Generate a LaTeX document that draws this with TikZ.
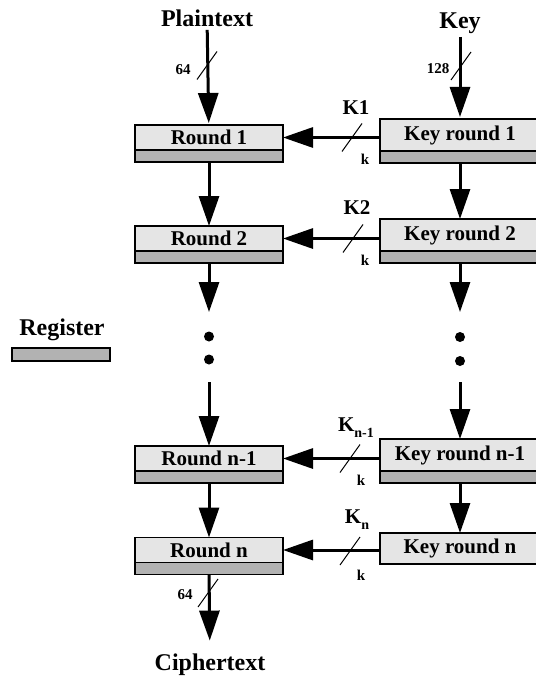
\documentclass[tikz,border=0pt]{standalone}
\usepackage{fontspec}
\setmainfont{Liberation Serif}
\usetikzlibrary{arrows.meta,calc,positioning}

% small slash across a bus, #1 = centre point
\newcommand{\busmark}[1]{\draw[bus] ($#1+(-10,14)$) -- ($#1+(10,-14)$);}

\begin{document}
\begin{tikzpicture}[x=1pt, y=-1pt, every node/.style={font=\bfseries},
  stage/.style={draw, line width=1.4pt, fill=gray!20, outer sep=0pt, inner sep=0pt,
    minimum width=148pt, minimum height=25pt, font=\fontsize{21}{23}\selectfont\bfseries},
  keystage/.style={stage, minimum width=160pt, minimum height=32pt},
  register/.style={draw, line width=1.4pt, fill=gray!60, outer sep=0pt, inner sep=0pt,
    minimum width=148pt, minimum height=12pt},
  title/.style={font=\fontsize{24}{26}\selectfont\bfseries},
  buslabel/.style={font=\fontsize{15}{16}\selectfont\bfseries},
  keylabel/.style={font=\fontsize{21}{23}\selectfont\bfseries},
  flow/.style={line width=3pt, -{Triangle[width=20pt,length=30pt]}},
  bus/.style={line width=1pt},
  dot/.style={circle, fill, inner sep=0pt, minimum size=10pt}]
  \useasboundingbox (0,0) rectangle (535,679);

  % titles
  \node[title] (plain) at (207,18) {Plaintext};
  \node[title] (key) at (460,23) {Key};
  \node[title] (cipher) at (210,665) {Ciphertext};
  \node[title] (regtxt) at (62,330) {Register};
  \node[register, minimum width=98pt, minimum height=13pt] (legend) at (61,354.5) {};

  % cipher rounds (left column)
  \foreach \n/\y/\t in {r1/137.5/Round 1, r2/238.5/Round 2, rm/458.5/Round n-1, rn/550/Round n}{
    \node[stage] (\n) at (209,\y) {\t};
    \node[register, below=0pt of \n] (\n reg) {};
  }

  % key schedule (right column)
  \foreach \n/\y/\t in {k1/135/Key round 1, k2/235/Key round 2, km/455/Key round n-1}{
    \node[keystage] (\n) at (460,\y) {\t};
    \node[register, minimum width=160pt, below=0pt of \n] (\n reg) {};
  }
  \node[keystage, minimum height=31pt] (kn) at (460,548.5) {Key round n};

  % dots for the omitted rounds
  \node[dot] (ld1) at (209,336.5) {};
  \node[dot] (ld2) at (209,359.5) {};
  \node[dot] (rd1) at (460,337) {};
  \node[dot] (rd2) at (460,361) {};
  \coordinate (lstop) at (209,312);
  \coordinate (lgo) at (209,382);
  \coordinate (rstop) at (460,312);
  \coordinate (rgo) at (460,382);

  % data path
  \draw[flow, shorten >=2pt] (plain) -- (r1);
  \draw[flow] (r1reg) -- (r2);
  \draw[flow] (r2reg.south) -- (lstop);
  \draw[flow] (lgo) -- (rm);
  \draw[flow] (rmreg) -- (rn);
  \draw[flow, shorten >=10pt] (rnreg) -- (cipher);

  % key path
  \draw[flow, shorten >=2pt] (key) -- (k1);
  \draw[flow] (k1reg) -- (k2);
  \draw[flow] (k2reg.south) -- (rstop);
  \draw[flow] (rgo) -- (km);
  \draw[flow] (kmreg) -- (kn);

  % round keys
  \draw[flow] (k1.west |- r1.east) -- (r1.east);
  \draw[flow] (k2.west |- r2.east) -- (r2.east);
  \draw[flow] (km.west |- rm.east) -- (rm.east);
  \draw[flow] (kn.west |- rn.east) -- (rn.east);

  % bus widths
  \busmark{(207,65.5)}
  \node[buslabel] (w1) at (183,70) {64};
  \busmark{(461,66)}
  \node[buslabel] (w2) at (438,69) {128};
  \busmark{(208,593)}
  \node[buslabel] (w3) at (185,595) {64};

  \busmark{(352,137.5)}
  \node[keylabel] (K1) at (356,108) {K1};
  \node[buslabel] (k1w) at (365,159) {k};
  \busmark{(353,238.5)}
  \node[keylabel] (K2) at (357,208) {K2};
  \node[buslabel] (k2w) at (365,260) {k};
  \busmark{(350,458.5)}
  \node[keylabel] (Km) at (356,428) {K\raisebox{-6pt}{\fontsize{14}{14}\selectfont n-1}};
  \node[buslabel] (kmw) at (361,480) {k};
  \busmark{(350,551)}
  \node[keylabel] (Kn) at (357,520) {K\raisebox{-6pt}{\fontsize{14}{14}\selectfont n}};
  \node[buslabel] (knw) at (361,575) {k};

\end{tikzpicture}
\end{document}
